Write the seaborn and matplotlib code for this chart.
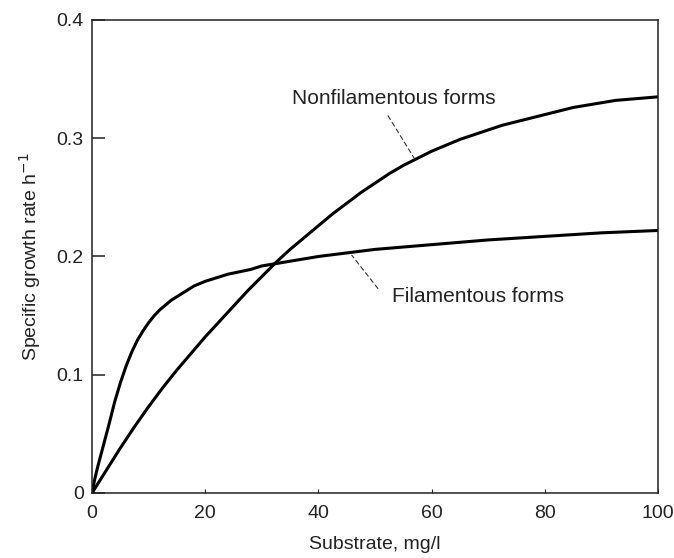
import numpy as np
import pandas as pd
import matplotlib
matplotlib.use("Agg")
import matplotlib.pyplot as plt
import seaborn as sns

# Filamentous forms
fil_x = [0, 0.5, 1, 1.5, 2, 3, 4, 5, 6, 7, 8, 9, 10, 11, 12, 13, 14, 15, 16, 17, 18,
         20, 22, 24, 26, 28, 30, 35, 40, 45, 50, 60, 70, 80, 90, 100]
fil_y = [0, 0.012, 0.022, 0.031, 0.040, 0.058, 0.077, 0.093, 0.107, 0.119, 0.129,
         0.137, 0.144, 0.150, 0.155, 0.159, 0.163, 0.166, 0.169, 0.172, 0.175,
         0.179, 0.182, 0.185, 0.187, 0.189, 0.192, 0.196, 0.200, 0.203, 0.206,
         0.210, 0.214, 0.217, 0.220, 0.222]

# Nonfilamentous forms
non_x = [0, 2.5, 5, 7.5, 10, 12.5, 15, 17.5, 20, 22.5, 25, 27.5, 30, 32.5, 35, 37.5,
         40, 42.5, 45, 47.5, 50, 52.5, 55, 57.5, 60, 62.5, 65, 67.5, 70, 72.5, 75,
         77.5, 80, 82.5, 85, 87.5, 90, 92.5, 95, 97.5, 100]
non_y = [0, 0.019, 0.038, 0.056, 0.073, 0.089, 0.104, 0.118, 0.132, 0.145, 0.158,
         0.171, 0.183, 0.195, 0.206, 0.216, 0.226, 0.236, 0.245, 0.254, 0.262,
         0.270, 0.277, 0.283, 0.289, 0.294, 0.299, 0.303, 0.307, 0.311, 0.314,
         0.317, 0.320, 0.323, 0.326, 0.328, 0.330, 0.332, 0.333, 0.334, 0.335]

x_ticks = [0, 20, 40, 60, 80, 100]
y_ticks = [0, 0.1, 0.2, 0.3, 0.4]
y_tick_labels = ["0", "0.1", "0.2", "0.3", "0.4"]

sns.set_style("ticks")
plt.rcParams["font.family"] = ["Liberation Sans", "DejaVu Sans"]

df = pd.concat([
    pd.DataFrame({"x": fil_x, "y": fil_y, "form": "Filamentous"}),
    pd.DataFrame({"x": non_x, "y": non_y, "form": "Nonfilamentous"}),
])

fig, ax = plt.subplots(figsize=(6.74, 5.58), dpi=100)
fig.subplots_adjust(left=0.1365, right=0.9763, bottom=0.1165, top=0.9642)

sns.lineplot(data=df, x="x", y="y", units="form", estimator=None,
             color="black", linewidth=2.2, ax=ax, legend=False,
             solid_joinstyle="round", solid_capstyle="round")

ax.set_xlim(0, 100)
ax.set_ylim(0, 0.4)
ax.set_xticks(x_ticks)
ax.set_xticklabels([str(t) for t in x_ticks])
ax.set_yticks(y_ticks)
ax.set_yticklabels(y_tick_labels)
ax.tick_params(axis="y", direction="in", length=9, width=1.1, pad=6, labelsize=14, colors="#222222")
ax.tick_params(axis="x", direction="in", length=3, width=0.8, pad=9, labelsize=14, colors="#222222")

for side in ["left", "right", "top", "bottom"]:
    ax.spines[side].set_visible(True)
    ax.spines[side].set_linewidth(1.1)
    ax.spines[side].set_color("#222222")

ax.set_xlabel("Substrate, mg/l", fontsize=14, color="#222222", labelpad=10)
ax.set_ylabel("Specific growth rate h$^{-1}$", fontsize=14, color="#222222", labelpad=10)

# labels with dashed leader lines
leader = dict(arrowstyle="-", linestyle=(0, (4, 3)), lw=0.8, color="#333333",
              shrinkA=0, shrinkB=0)
ax.text(35.3, 0.334, "Nonfilamentous forms", fontsize=15, ha="left", va="center", color="#222222")
ax.annotate("", xy=(57.2, 0.281), xytext=(52.3, 0.319), arrowprops=leader)
ax.text(53, 0.166, "Filamentous forms", fontsize=15, ha="left", va="center", color="#222222")
ax.annotate("", xy=(45.9, 0.201), xytext=(50.5, 0.173), arrowprops=leader)

fig.savefig("out.png", dpi=100)
